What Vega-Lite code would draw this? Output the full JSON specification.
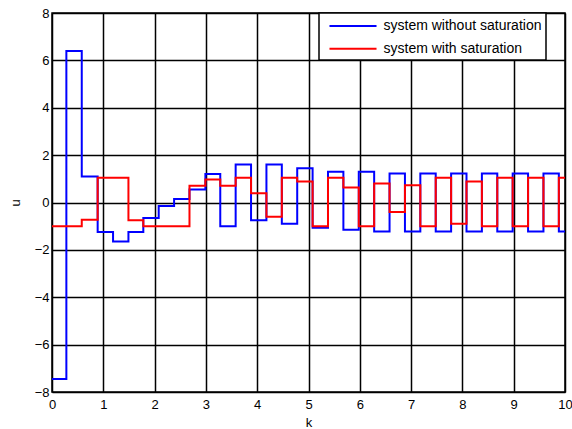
{
  "$schema": "https://vega.github.io/schema/vega-lite/v6.json",
  "width": 513,
  "height": 379,
  "autosize": "none",
  "padding": {"left": 52, "top": 13, "right": 7, "bottom": 37},
  "background": "white",
  "config": {
    "view": {"stroke": "black", "strokeWidth": 1.5},
    "font": "Liberation Sans",
    "axis": {
      "grid": true,
      "gridColor": "black",
      "gridOpacity": 1,
      "gridWidth": 1.5,
      "domain": false,
      "ticks": false,
      "labelFont": "Liberation Sans",
      "labelFontSize": 13,
      "labelColor": "black",
      "titleFont": "Liberation Sans",
      "titleFontSize": 13,
      "titleFontWeight": "normal",
      "titleColor": "black"
    },
    "legend": {
      "orient": "none",
      "legendX": 267,
      "legendY": 0,
      "symbolType": "M-3,0H3",
      "symbolSize": 246,
      "symbolOffset": 21,
      "symbolStrokeWidth": 2,
      "labelFont": "Liberation Sans",
      "labelFontSize": 14,
      "labelColor": "black",
      "labelOffset": 21.5,
      "strokeColor": "black",
      "fillColor": "white",
      "padding": 4,
      "rowPadding": 6.7
    }
  },
  "data": {
    "values": [
      {"k": 0, "u": -7.45, "s": "system without saturation"},
      {"k": 0.28, "u": 6.4, "s": "system without saturation"},
      {"k": 0.58, "u": 1.1, "s": "system without saturation"},
      {"k": 0.89, "u": -1.25, "s": "system without saturation"},
      {"k": 1.19, "u": -1.65, "s": "system without saturation"},
      {"k": 1.49, "u": -1.25, "s": "system without saturation"},
      {"k": 1.78, "u": -0.65, "s": "system without saturation"},
      {"k": 2.08, "u": -0.15, "s": "system without saturation"},
      {"k": 2.38, "u": 0.15, "s": "system without saturation"},
      {"k": 2.68, "u": 0.55, "s": "system without saturation"},
      {"k": 2.99, "u": 1.2, "s": "system without saturation"},
      {"k": 3.28, "u": -1.0, "s": "system without saturation"},
      {"k": 3.58, "u": 1.6, "s": "system without saturation"},
      {"k": 3.88, "u": -0.75, "s": "system without saturation"},
      {"k": 4.18, "u": 1.6, "s": "system without saturation"},
      {"k": 4.48, "u": -0.9, "s": "system without saturation"},
      {"k": 4.78, "u": 1.45, "s": "system without saturation"},
      {"k": 5.08, "u": -1.07, "s": "system without saturation"},
      {"k": 5.38, "u": 1.3, "s": "system without saturation"},
      {"k": 5.68, "u": -1.15, "s": "system without saturation"},
      {"k": 5.98, "u": 1.3, "s": "system without saturation"},
      {"k": 6.28, "u": -1.22, "s": "system without saturation"},
      {"k": 6.58, "u": 1.22, "s": "system without saturation"},
      {"k": 6.88, "u": -1.22, "s": "system without saturation"},
      {"k": 7.18, "u": 1.22, "s": "system without saturation"},
      {"k": 7.48, "u": -1.22, "s": "system without saturation"},
      {"k": 7.78, "u": 1.22, "s": "system without saturation"},
      {"k": 8.08, "u": -1.22, "s": "system without saturation"},
      {"k": 8.38, "u": 1.22, "s": "system without saturation"},
      {"k": 8.68, "u": -1.22, "s": "system without saturation"},
      {"k": 8.98, "u": 1.22, "s": "system without saturation"},
      {"k": 9.28, "u": -1.22, "s": "system without saturation"},
      {"k": 9.58, "u": 1.22, "s": "system without saturation"},
      {"k": 9.88, "u": -1.22, "s": "system without saturation"},
      {"k": 10, "u": -1.22, "s": "system without saturation"},
      {"k": 0, "u": -1.0, "s": "system with saturation"},
      {"k": 0.58, "u": -0.73, "s": "system with saturation"},
      {"k": 0.89, "u": 1.05, "s": "system with saturation"},
      {"k": 1.49, "u": -0.75, "s": "system with saturation"},
      {"k": 1.78, "u": -1.0, "s": "system with saturation"},
      {"k": 2.68, "u": 0.71, "s": "system with saturation"},
      {"k": 2.99, "u": 0.97, "s": "system with saturation"},
      {"k": 3.28, "u": 0.71, "s": "system with saturation"},
      {"k": 3.58, "u": 1.04, "s": "system with saturation"},
      {"k": 3.88, "u": 0.39, "s": "system with saturation"},
      {"k": 4.18, "u": -0.6, "s": "system with saturation"},
      {"k": 4.48, "u": 1.04, "s": "system with saturation"},
      {"k": 4.78, "u": 0.89, "s": "system with saturation"},
      {"k": 5.08, "u": -1.0, "s": "system with saturation"},
      {"k": 5.38, "u": 1.04, "s": "system with saturation"},
      {"k": 5.68, "u": 0.63, "s": "system with saturation"},
      {"k": 5.98, "u": -1.0, "s": "system with saturation"},
      {"k": 6.28, "u": 0.8, "s": "system with saturation"},
      {"k": 6.58, "u": -0.4, "s": "system with saturation"},
      {"k": 6.88, "u": 0.73, "s": "system with saturation"},
      {"k": 7.18, "u": -1.0, "s": "system with saturation"},
      {"k": 7.48, "u": 1.04, "s": "system with saturation"},
      {"k": 7.78, "u": -0.9, "s": "system with saturation"},
      {"k": 8.08, "u": 0.89, "s": "system with saturation"},
      {"k": 8.38, "u": -1.0, "s": "system with saturation"},
      {"k": 8.68, "u": 1.04, "s": "system with saturation"},
      {"k": 8.98, "u": -1.0, "s": "system with saturation"},
      {"k": 9.28, "u": 1.04, "s": "system with saturation"},
      {"k": 9.58, "u": -1.0, "s": "system with saturation"},
      {"k": 9.88, "u": 1.04, "s": "system with saturation"},
      {"k": 10, "u": 1.04, "s": "system with saturation"}
    ]
  },
  "encoding": {
    "x": {
      "field": "k", "type": "quantitative", "title": "k",
      "scale": {"domain": [0, 10], "nice": false, "zero": false},
      "axis": {"values": [0,1,2,3,4,5,6,7,8,9,10], "labelPadding": 6, "titlePadding": 5, "labelFlush": false}
    },
    "y": {
      "field": "u", "type": "quantitative", "title": "u",
      "scale": {"domain": [-8, 8], "nice": false, "zero": false},
      "axis": {"values": [-8,-6,-4,-2,0,2,4,6,8], "labelPadding": 3, "titlePadding": 12, "labelFlush": false}
    },
    "color": {
      "field": "s", "type": "nominal",
      "scale": {"domain": ["system without saturation", "system with saturation"], "range": ["#0000ff", "#ff0000"]},
      "legend": {"title": null, "encode": {"legend": {"update": {"strokeWidth": {"value": 1.5}}}}}
    }
  },
  "layer": [
    {
      "transform": [{"filter": "datum.s === 'system without saturation'"}],
      "mark": {"type": "line", "interpolate": "step-after", "strokeWidth": 2, "clip": true}
    },
    {
      "transform": [{"filter": "datum.s === 'system with saturation'"}],
      "mark": {"type": "line", "interpolate": "step-after", "strokeWidth": 2, "clip": true}
    }
  ]
}
